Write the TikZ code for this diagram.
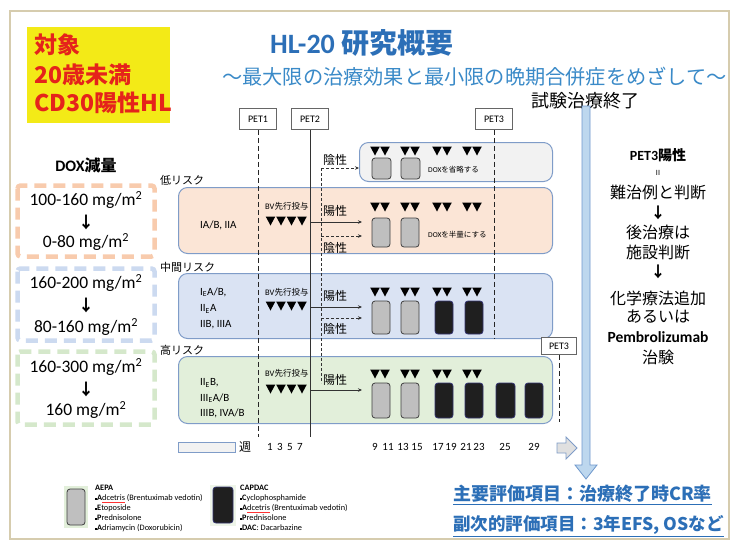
\documentclass[tikz,border=0pt]{standalone}
\usepackage{fontspec}
\setmainfont{Carlito}
\newfontfamily\jp{Noto Sans CJK JP}
\usetikzlibrary{arrows.meta}
\definecolor{frameC}{HTML}{D6CCAE}
\definecolor{yel}{HTML}{F3EA17}
\definecolor{redT}{HTML}{E5231B}
\definecolor{titleB}{HTML}{2C6FB7}
\definecolor{subB}{HTML}{3A8AC8}
\definecolor{peach}{HTML}{FBE5D6}
\definecolor{lblue}{HTML}{DAE3F3}
\definecolor{lgreen}{HTML}{E2EFDA}
\definecolor{lgray}{HTML}{F2F2F2}
\definecolor{boxB}{HTML}{7F9CC8}
\definecolor{dpeach}{HTML}{F8CBAD}
\definecolor{dblue}{HTML}{CCDAF0}
\definecolor{dgreen}{HTML}{D5E8CB}
\definecolor{arrB}{HTML}{BDD7EE}
\definecolor{arrBd}{HTML}{6F98CC}
\newcommand\fsz[1]{\fontsize{#1pt}{#1pt}\selectfont}
\newcommand\bul{\rule[1pt]{2pt}{2pt}}
\newcommand\redul[1]{{\color{red!80}\underline{\textcolor{black}{#1}}}}
\begin{document}
\begin{tikzpicture}[x=1pt,y=-1pt,
  txt/.style={inner sep=0pt},
  petbox/.style={draw=black!60, fill=white, line width=0.6pt, minimum width=37pt, minimum height=21pt, inner sep=0pt, font=\fsz{10}},
  riskbox/.style={draw=boxB, line width=1pt, rounded corners=9pt, inner sep=0pt, anchor=north west},
  lblk/.style={draw=black!75, fill=black!25, line width=0.8pt, rounded corners=3pt},
  dblk/.style={draw=black!60!blue!60!gray, fill=black!88, line width=0.8pt, rounded corners=3pt},
  posarr/.style={-{Stealth[length=4pt,width=3.5pt]}, line width=0.7pt, black!80},
  negarr/.style={-{Stealth[length=4pt,width=3.5pt]}, line width=0.7pt, black!80, dash pattern=on 3pt off 2pt},
  negline/.style={line width=0.7pt, black!80, dash pattern=on 3pt off 2pt},
  petdash/.style={line width=0.8pt, black!85, dash pattern=on 5pt off 3pt},
  doxbox/.style={line width=4.5pt, dash pattern=on 12pt off 7pt, rounded corners=3pt},
  pics/tri/.style={code={\fill[black] (-4.8,-4.5) -- (4.8,-4.5) -- (0,4.5) -- cycle;}}
]
\useasboundingbox (0,0) rectangle (735,542);
\fill[white] (0,0) rectangle (735,542);
\draw[frameC, line width=2pt] (10,11) rectangle (729,539);

% yellow box
\fill[yel] (27,27) rectangle (170,123);
\node[txt, anchor=west, text=redT, font=\jp\bfseries\fsz{23}] (y1) at (34,45) {対象};
\node[txt, anchor=west, text=redT, font=\jp\bfseries\fsz{23}] (y2) at (34,75) {20歳未満};
\node[txt, anchor=west, text=redT, font=\jp\bfseries\fsz{23}] (y3) at (34,103) {CD30陽性HL};

% titles
\node[txt, anchor=west, text=titleB, font=\bfseries\fsz{28}] (title) at (270,43) {HL-20 {\jp\bfseries 研究概要}};
\node[txt, anchor=west, text=subB, font=\jp\fsz{20.2}] (sub) at (222,77) {～最大限の治療効果と最小限の晩期合併症をめざして～};
\node[txt, font=\jp\fsz{18}] (end) at (585,101) {試験治療終了};

% risk boxes
\node[riskbox, fill=lgray, minimum width=193pt, minimum height=39pt] (neg) at (359,142) {};
\node[riskbox, fill=peach, minimum width=374pt, minimum height=66pt] (low) at (178,187) {};
\node[riskbox, fill=lblue, minimum width=374pt, minimum height=65pt] (mid) at (178,273) {};
\node[riskbox, fill=lgreen, minimum width=374pt, minimum height=67pt] (high) at (178,356) {};

\node[txt, anchor=west, font=\jp\fsz{11}] (lowL) at (160,180) {低リスク};
\node[txt, anchor=west, font=\jp\fsz{11}] (midL) at (160,267) {中間リスク};
\node[txt, anchor=west, font=\jp\fsz{11}] (highL) at (160,350) {高リスク};

% stages
\node[txt, anchor=west, font=\fsz{11}] (s1) at (200,225) {IA/B, IIA};
\node[txt, anchor=west, font=\fsz{11}] (s2) at (200,292) {I\textsubscript{E}A/B,};
\node[txt, anchor=west, font=\fsz{11}] (s3) at (200,309) {II\textsubscript{E}A};
\node[txt, anchor=west, font=\fsz{11}] (s4) at (200,325) {IIB, IIIA};
\node[txt, anchor=west, font=\fsz{11}] (s5) at (200,383) {II\textsubscript{E}B,};
\node[txt, anchor=west, font=\fsz{11}] (s6) at (200,398) {III\textsubscript{E}A/B};
\node[txt, anchor=west, font=\fsz{11}] (s7) at (200,413) {IIIB, IVA/B};

% BV
\node[txt, anchor=west, font=\fsz{8.5}] (bv1) at (265,206) {BV{\jp 先行投与}};
\node[txt, anchor=west, font=\fsz{8.5}] (bv2) at (265,292) {BV{\jp 先行投与}};
\node[txt, anchor=west, font=\fsz{8.5}] (bv3) at (265,373) {BV{\jp 先行投与}};
\foreach \y in {221,306,389} {
  \foreach \x in {270.5,281,291.5,302} { \pic at (\x,\y) {tri}; }
}

% treatment triangles
\foreach \y in {151,207,292,374} {
  \foreach \c in {380,410,442,472} {
    \pic at (\c-5,\y) {tri}; \pic at (\c+5,\y) {tri};
  }
}

% blocks
\draw[lblk] (372,158) rectangle (391,179);
\draw[lblk] (401,158) rectangle (420,179);
\draw[lblk] (372,218) rectangle (390,247);
\draw[lblk] (401,218) rectangle (419,247);
\draw[lblk] (372,301) rectangle (390,334);
\draw[lblk] (401,301) rectangle (419,334);
\draw[dblk] (435,301) rectangle (453,334);
\draw[dblk] (465,301) rectangle (483,334);
\draw[lblk] (372,383) rectangle (390,418);
\draw[lblk] (401,383) rectangle (419,418);
\draw[dblk] (435,383) rectangle (453,418);
\draw[dblk] (465,383) rectangle (483,418);
\draw[dblk] (496,383) rectangle (515,418);
\draw[dblk] (525,383) rectangle (543,418);

\node[txt, anchor=west, font=\fsz{7.5}] (om) at (428,170) {DOX{\jp を省略する}};
\node[txt, anchor=west, font=\fsz{7.5}] (half) at (428,235) {DOX{\jp を半量にする}};

% PET boxes and lines
\node[petbox] (pet1) at (258,119) {PET1};
\node[petbox] (pet2) at (310,119) {PET2};
\node[petbox] (pet3) at (494,119) {PET3};
\node[petbox, minimum width=35pt, minimum height=17pt] (pet3b) at (559,346) {PET3};
\coordinate (pet1e) at (258,437);
\coordinate (pet2e) at (310,437);
\coordinate (pet3e) at (494,338);
\coordinate (pet3be) at (559,422);
\draw[petdash] (pet1) -- (pet1e);
\draw[line width=0.8pt, black!80] (pet2) -- (pet2e);
\draw[petdash] (pet3) -- (pet3e);
\draw[petdash] (pet3b) -- (pet3be);

% branch arrows
\coordinate (pA) at (310,222); \coordinate (pAt) at (362,222);
\coordinate (pB) at (310,307); \coordinate (pBt) at (362,307);
\coordinate (pC) at (310,390); \coordinate (pCt) at (362,390);
\draw[posarr] (pA) -- (pAt);
\draw[posarr] (pB) -- (pBt);
\draw[posarr] (pC) -- (pCt);
\coordinate (nTop) at (321,168); \coordinate (nTopT) at (359,168);
\coordinate (nBot) at (321,383);
\coordinate (nA) at (321,236); \coordinate (nAt) at (362,236);
\coordinate (nB) at (321,318); \coordinate (nBt) at (362,318);
\draw[negline] (nTop) -- (nBot);
\draw[negarr] (nTop) -- (nTopT);
\draw[negarr] (nA) -- (nAt);
\draw[negarr] (nB) -- (nBt);

\node[txt, anchor=west, font=\jp\fsz{12}] (lb1) at (323,160) {陰性};
\node[txt, anchor=west, font=\jp\fsz{12}] (lb2) at (323,211) {陽性};
\node[txt, anchor=west, font=\jp\fsz{12}] (lb3) at (323,248) {陰性};
\node[txt, anchor=west, font=\jp\fsz{12}] (lb4) at (323,296) {陽性};
\node[txt, anchor=west, font=\jp\fsz{12}] (lb5) at (323,329) {陰性};
\node[txt, anchor=west, font=\jp\fsz{12}] (lb6) at (323,380) {陽性};

% week axis
\draw[fill=lgray, draw=boxB, line width=0.8pt] (178,442) rectangle (235,452);
\node[txt, font=\jp\fsz{12}] (wk) at (245,447) {週};
\foreach \x/\t in {270/1,280/3,290/5,300/7,375/9,388/11,403/13,417/15,438/17,451/19,466/21,479/23,505/25,534/29}
  \node[txt, font=\fsz{11}] at (\x,447) {\t};
\filldraw[fill=black!12, draw=boxB, line width=0.8pt] (557,443) -- (566,443) -- (566,437) -- (577,448) -- (566,459) -- (566,453) -- (557,453) -- cycle;

% blue vertical arrow
\filldraw[fill=arrB, draw=arrBd, line width=0.8pt] (582,106) -- (590,106) -- (590,465) -- (597,465) -- (586,479) -- (575,465) -- (582,465) -- cycle;

% right panel
\node[txt, font=\bfseries\fsz{14}] (r1) at (658,155) {PET3{\jp\bfseries 陽性}};
\node[txt, font=\fsz{8}] (r2) at (658,173) {II};
\node[txt, font=\jp\fsz{16}] (r3) at (658,192) {難治例と判断};
\node[txt, font=\jp\bfseries\fsz{15}] (r4) at (658,213) {↓};
\node[txt, font=\jp\fsz{16}] (r5) at (658,232) {後治療は};
\node[txt, font=\jp\fsz{16}] (r6) at (658,252) {施設判断};
\node[txt, font=\jp\bfseries\fsz{15}] (r7) at (658,272) {↓};
\node[txt, font=\jp\fsz{16}] (r8) at (658,298) {化学療法追加};
\node[txt, font=\jp\fsz{16}] (r9) at (658,317) {あるいは};
\node[txt, font=\bfseries\fsz{15.5}] (r10) at (658,337) {Pembrolizumab};
\node[txt, font=\jp\fsz{16}] (r11) at (658,357) {治験};

% left DOX panel
\node[txt, font=\bfseries\fsz{16}] (doxT) at (86,165) {DOX{\jp\bfseries 減量}};
\draw[doxbox, dpeach] (17.5,185.5) rectangle (154.5,256.5);
\draw[doxbox, dblue] (17.5,268.5) rectangle (154.5,340.5);
\draw[doxbox, dgreen] (17.5,351.5) rectangle (154.5,424.5);
\node[txt, font=\fsz{17.5}] (d1) at (86,200) {100-160 mg/m\textsuperscript{2}};
\node[txt, font=\jp\bfseries\fsz{16}] (d1a) at (86,222) {↓};
\node[txt, font=\fsz{17.5}] (d1b) at (86,242) {0-80 mg/m\textsuperscript{2}};
\node[txt, font=\fsz{17.5}] (d2) at (86,283) {160-200 mg/m\textsuperscript{2}};
\node[txt, font=\jp\bfseries\fsz{16}] (d2a) at (86,305) {↓};
\node[txt, font=\fsz{17.5}] (d2b) at (86,327) {80-160 mg/m\textsuperscript{2}};
\node[txt, font=\fsz{17.5}] (d3) at (86,367) {160-300 mg/m\textsuperscript{2}};
\node[txt, font=\jp\bfseries\fsz{16}] (d3a) at (86,389) {↓};
\node[txt, font=\fsz{17.5}] (d3b) at (86,410) {160 mg/m\textsuperscript{2}};

% legend
\fill[lgreen] (64,486) rectangle (88,528);
\draw[lblk] (67,489) rectangle (85,525);
\fill[lgreen!60] (210,485) rectangle (236,526);
\draw[dblk] (213,487) rectangle (233,523);
\node[txt, anchor=north west, align=left, font=\fontsize{8.3pt}{10pt}\selectfont] (legA) at (95,485)
  {\textbf{AEPA}\\ \bul\textbf{A}\redul{dcetris} (Brentuximab vedotin)\\ \bul\textbf{E}toposide\\ \bul\textbf{P}rednisolone\\ \bul\textbf{A}driamycin (Doxorubicin)};
\node[txt, anchor=north west, align=left, font=\fontsize{8.3pt}{10pt}\selectfont] (legC) at (240,485)
  {\textbf{CAPDAC}\\ \bul\textbf{C}yclophosphamide\\ \bul\textbf{A}\redul{dcetris} (Brentuximab vedotin)\\ \bul\textbf{P}rednisolone\\ \bul\textbf{DAC}: Dacarbazine};

% endpoints
\node[txt, anchor=west, text=titleB, font=\jp\bfseries\fsz{18}] (ep1) at (453,495) {\underline{主要評価項目：治療終了時CR率}};
\node[txt, anchor=west, text=titleB, font=\jp\bfseries\fsz{17.5}] (ep2) at (453,526) {\underline{副次的評価項目：3年EFS, OSなど}};
\end{tikzpicture}
\end{document}
